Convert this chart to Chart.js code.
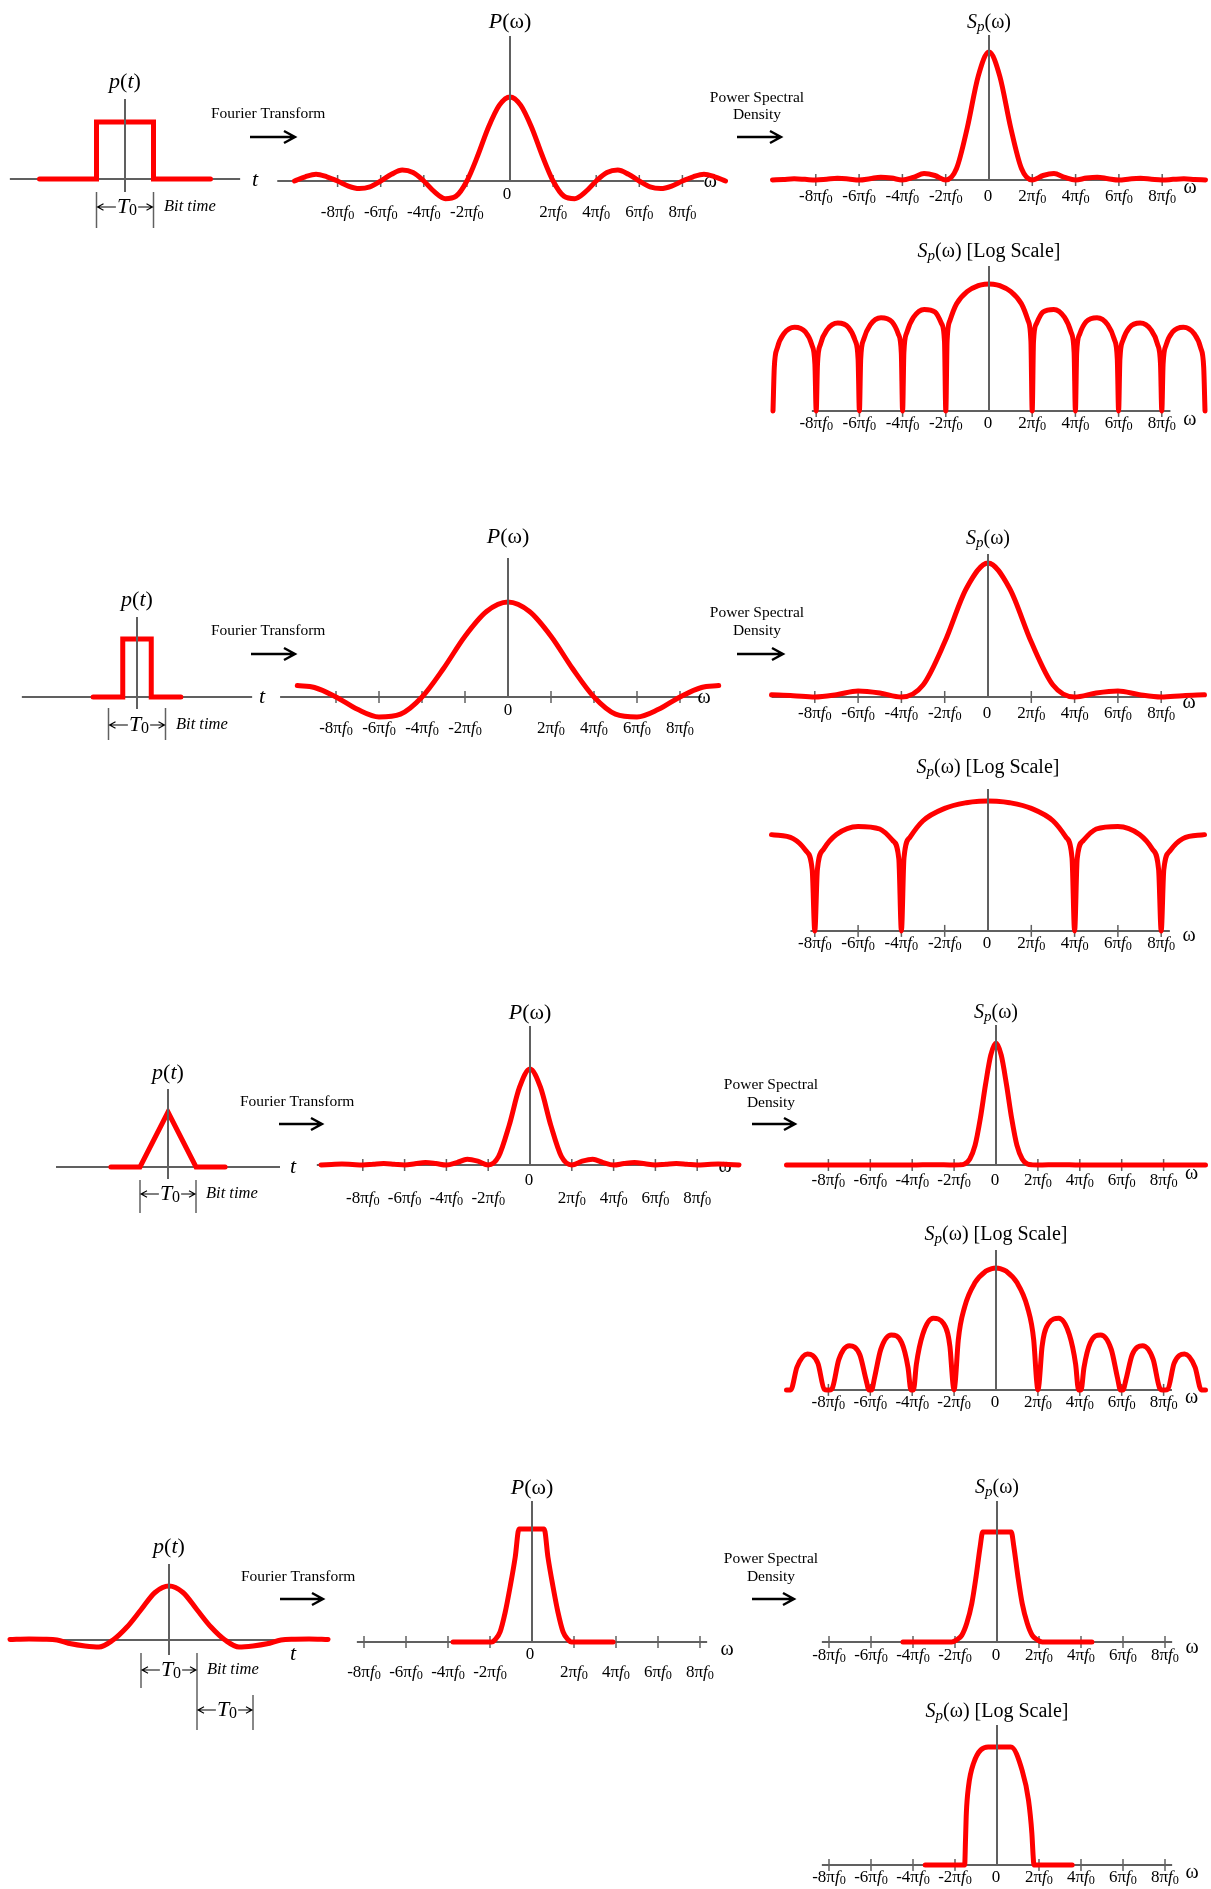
<!DOCTYPE html>
<html>
<head>
<meta charset="utf-8">
<script src="https://cdn.jsdelivr.net/npm/chart.js@4.4.1/dist/chart.umd.min.js"></script>
<style>
  html, body { margin: 0; padding: 0; background: #fff; }
  #page { position: relative; width: 1211px; height: 1889px; overflow: hidden; }
  #page canvas { position: absolute; left: 0; }
</style>
</head>
<body>
<div id="page"></div>
<script>
// Frequency axis: ticks in units of 2*pi*f0
const omegaTicks = [-4, -3, -2, -1, 1, 2, 3, 4];
const omegaTickLabels = ['-8πf0', '-6πf0', '-4πf0', '-2πf0', '2πf0', '4πf0', '6πf0', '8πf0'];

// Shared grid for the sinc-type curves
const uGrid = [-5, -4.75, -4.5, -4.25, -4, -3.75, -3.5, -3.25, -3, -2.75, -2.5, -2.25, -2, -1.75, -1.5, -1.25, -1, -0.75, -0.5, -0.25,
  0, 0.25, 0.5, 0.75, 1, 1.25, 1.5, 1.75, 2, 2.25, 2.5, 2.75, 3, 3.25, 3.5, 3.75, 4, 4.25, 4.5, 4.75, 5];

// Row 1: full width rectangular pulse
const rectPulseT = [-1.5, -0.5, -0.5, 0.5, 0.5, 1.5];
const rectPulseV = [0, 0, 1, 1, 0, 0];
const rectP = [0, 0.05, 0.08, 0.05, 0, -0.06, -0.09, -0.07, 0, 0.08, 0.13, 0.10, 0, -0.13, -0.21, -0.18, 0, 0.30, 0.64, 0.90,
  1, 0.90, 0.64, 0.30, 0, -0.18, -0.21, -0.13, 0, 0.10, 0.13, 0.08, 0, -0.07, -0.09, -0.06, 0, 0.05, 0.08, 0.05, 0];
const rectSp = [0, 0.004, 0.009, 0.005, 0, 0.006, 0.013, 0.008, 0, 0.01, 0.022, 0.015, 0, 0.02, 0.05, 0.035, 0, 0.09, 0.41, 0.81,
  1, 0.81, 0.41, 0.09, 0, 0.035, 0.05, 0.02, 0, 0.015, 0.022, 0.01, 0, 0.008, 0.013, 0.006, 0, 0.005, 0.009, 0.004, 0];
const lobeU = [-5, -4.97, -4.9, -4.75, -4.5, -4.25, -4.1, -4.03, -4, -3.97, -3.9, -3.75, -3.5, -3.25, -3.1, -3.03,
  -3, -2.97, -2.9, -2.75, -2.5, -2.25, -2.1, -2.03, -2, -1.97, -1.9, -1.75, -1.5, -1.25, -1.1, -1.03,
  -1, -0.97, -0.9, -0.75, -0.5, -0.25, -0.1, 0, 0.1, 0.25, 0.5, 0.75, 0.9, 0.97, 1,
  1.03, 1.1, 1.25, 1.5, 1.75, 1.9, 1.97, 2, 2.03, 2.1, 2.25, 2.5, 2.75, 2.9, 2.97, 3,
  3.03, 3.1, 3.25, 3.5, 3.75, 3.9, 3.97, 4, 4.03, 4.1, 4.25, 4.5, 4.75, 4.9, 4.97, 5];
const rectLogDb = [-67.5, -44.4, -34.0, -26.5, -23.0, -25.5, -32.4, -42.6, -67.5, -42.5, -32.0, -24.4, -20.8, -23.2, -30.0, -40.1,
  -67.5, -39.9, -29.4, -21.7, -17.9, -20.0, -26.6, -36.6, -67.5, -36.4, -25.7, -17.8, -13.5, -14.9, -21.0, -30.7,
  -67.5, -30.2, -19.2, -10.5, -3.9, -0.9, -0.1, 0, -0.1, -0.9, -3.9, -10.5, -19.2, -30.2, -67.5,
  -30.7, -21.0, -14.9, -13.5, -17.8, -25.7, -36.4, -67.5, -36.6, -26.6, -20.0, -17.9, -21.7, -29.4, -39.9, -67.5,
  -40.1, -30.0, -23.2, -20.8, -24.4, -32.0, -42.5, -67.5, -42.6, -32.4, -25.5, -23.0, -26.5, -34.0, -44.4, -67.5];

// Row 2: half width (RZ) rectangular pulse
const rzPulseT = [-0.77, -0.25, -0.25, 0.25, 0.25, 0.77];
const rzPulseV = [0, 0, 1, 1, 0, 0];
const rzPU = [-4.9, -4.5, -4, -3.5, -3, -2.5, -2, -1.5, -1, -0.5, 0, 0.5, 1, 1.5, 2, 2.5, 3, 3.5, 4, 4.5, 4.9];
const rzP = [0.12, 0.10, 0, -0.13, -0.21, -0.18, 0, 0.30, 0.64, 0.90, 1, 0.90, 0.64, 0.30, 0, -0.18, -0.21, -0.13, 0, 0.10, 0.12];
const rzSpU = [-5, -4.5, -4, -3.5, -3, -2.5, -2, -1.5, -1, -0.5, 0, 0.5, 1, 1.5, 2, 2.5, 3, 3.5, 4, 4.5, 5];
const rzSp = [0.016, 0.01, 0, 0.017, 0.045, 0.03, 0, 0.09, 0.41, 0.81, 1, 0.81, 0.41, 0.09, 0, 0.03, 0.045, 0.017, 0, 0.01, 0.016];
const rzLogU = [-5, -4.5, -4.2, -4.06, -4, -3.94, -3.8, -3.5, -3, -2.5, -2.2, -2.06, -2, -1.94, -1.8, -1.5, -1, -0.5, -0.2,
  0, 0.2, 0.5, 1, 1.5, 1.8, 1.94, 2, 2.06, 2.2, 2.5, 3, 3.5, 3.8, 3.94, 4, 4.06, 4.2, 4.5, 5];
const rzLogDb = [-17.9, -20.0, -26.6, -36.6, -69.1, -36.4, -25.7, -17.8, -13.5, -14.9, -21.0, -30.7, -69.1, -30.2, -19.2, -10.5, -3.9, -0.9, -0.1,
  0, -0.1, -0.9, -3.9, -10.5, -19.2, -30.2, -69.1, -30.7, -21.0, -14.9, -13.5, -17.8, -25.7, -36.4, -69.1, -36.6, -26.6, -20.0, -17.9];

// Row 3: triangular pulse
const triPulseT = [-1.02, -0.5, 0, 0.5, 1.02];
const triPulseV = [0, 0, 1, 0, 0];
const triP = [0, 0.005, 0.01, 0.005, 0, 0.008, 0.015, 0.008, 0, 0.012, 0.025, 0.015, 0, 0.025, 0.06, 0.04, 0, 0.09, 0.41, 0.81,
  1, 0.81, 0.41, 0.09, 0, 0.04, 0.06, 0.025, 0, 0.015, 0.025, 0.012, 0, 0.008, 0.015, 0.008, 0, 0.005, 0.01, 0.005, 0];
const triSpU = [-5, -4, -3, -2, -1.5, -1, -0.875, -0.75, -0.625, -0.5, -0.375, -0.25, -0.125, 0,
  0.125, 0.25, 0.375, 0.5, 0.625, 0.75, 0.875, 1, 1.5, 2, 3, 4, 5];
const triSp = [0, 0, 0, 0, 0.003, 0, 0.001, 0.008, 0.05, 0.16, 0.38, 0.66, 0.90, 1,
  0.90, 0.66, 0.38, 0.16, 0.05, 0.008, 0.001, 0, 0.003, 0, 0, 0, 0];
const triLogDb = [-65.2, -65.2, -65.2, -53.0, -46.0, -51.0, -64.8, -65.2, -65.2, -65.2, -63.9, -48.9, -41.6, -46.4, -59.9, -65.2,
  -65.2, -65.2, -58.8, -43.5, -35.8, -40.0, -53.2, -65.2, -65.2, -65.2, -51.4, -35.6, -26.9, -29.8, -41.9, -61.5,
  -65.2, -60.4, -38.5, -20.9, -7.8, -1.8, -0.3, 0, -0.3, -1.8, -7.8, -20.9, -38.5, -60.4, -65.2,
  -61.5, -41.9, -29.8, -26.9, -35.6, -51.4, -65.2, -65.2, -65.2, -53.2, -40.0, -35.8, -43.5, -58.8, -65.2, -65.2,
  -65.2, -59.9, -46.4, -41.6, -48.9, -63.9, -65.2, -65.2, -65.2, -64.8, -51.0, -46.0, -53.0, -65.2, -65.2, -65.2];

// Row 4: smooth (raised cosine like) pulse
const rcPulseT = [-2.84, -2.5, -2.25, -2, -1.75, -1.5, -1.25, -1, -0.75, -0.5, -0.25, 0, 0.25, 0.5, 0.75, 1, 1.25, 1.5, 1.75, 2, 2.25, 2.5, 2.84];
const rcPulseV = [0.01, 0.02, 0.015, 0, -0.07, -0.11, -0.13, 0, 0.24, 0.56, 0.88, 1, 0.88, 0.56, 0.24, 0, -0.13, -0.11, -0.07, 0, 0.015, 0.02, 0.01];
const rcPU = [-1.88, -0.96, -0.88, -0.76, -0.64, -0.52, -0.40, -0.31, 0.29, 0.38, 0.50, 0.62, 0.74, 0.86, 0.94, 1.93];
const rcP = [0, 0, 0.02, 0.09, 0.26, 0.49, 0.75, 1, 1, 0.75, 0.49, 0.26, 0.09, 0.02, 0, 0];
const rcSpU = [-2.24, -1.08, -0.96, -0.84, -0.72, -0.60, -0.50, -0.40, -0.34, 0.34, 0.40, 0.50, 0.60, 0.72, 0.84, 0.96, 1.08, 2.26];
const rcSp = [0, 0, 0.02, 0.06, 0.17, 0.35, 0.59, 0.87, 1, 1, 0.87, 0.59, 0.35, 0.17, 0.06, 0.02, 0, 0];
const rcLogU = [-1.71, -0.77, -0.75, -0.73, -0.68, -0.56, -0.21, 0.33, 0.60, 0.75, 0.83, 0.86, 0.88, 1.79];
const rcLog = [0, 0, 0.21, 0.44, 0.66, 0.86, 1, 1, 0.80, 0.55, 0.27, 0.08, 0, 0];

const FONT = '"Liberation Serif", "DejaVu Serif", serif';
const RED = '#ff0000';
const AXIS = '#606060';
const PAGE_W = 1211;
const TICK_FS = 17;

const titleP = [{ t: 'P', s: 22, it: true }, { t: '(ω)', s: 22 }];
const titleS = [{ t: 'S', s: 20, it: true }, { t: 'p', s: 15, it: true, dy: 4 }, { t: '(ω)', s: 20 }];
const titleLog = titleS.concat([{ t: ' [Log Scale]', s: 20 }]);

// ---- drawing helpers ----
function line(ctx, x1, y1, x2, y2, color, w) {
    ctx.save();
    ctx.strokeStyle = color;
    ctx.lineWidth = w;
    ctx.beginPath();
    ctx.moveTo(x1, y1);
    ctx.lineTo(x2, y2);
    ctx.stroke();
    ctx.restore();
}

function arrow(ctx, from, to, y, w, head) {
    const dir = to > from ? 1 : -1;
    ctx.save();
    ctx.strokeStyle = '#000';
    ctx.lineWidth = w;
    ctx.lineJoin = 'miter';
    ctx.beginPath();
    ctx.moveTo(from, y);
    ctx.lineTo(to, y);
    ctx.moveTo(to - dir * head, y - head * 0.55);
    ctx.lineTo(to, y);
    ctx.lineTo(to - dir * head, y + head * 0.55);
    ctx.stroke();
    ctx.restore();
}

function fontOf(p) {
    return (p.it ? 'italic ' : '') + p.s + 'px ' + FONT;
}

function rich(ctx, parts, x, y, align) {
    ctx.save();
    ctx.fillStyle = '#000';
    ctx.textBaseline = 'middle';
    ctx.textAlign = 'left';
    let w = 0;
    const ws = parts.map(p => { ctx.font = fontOf(p); const m = ctx.measureText(p.t).width; w += m; return m; });
    let cx = align === 'center' ? x - w / 2 : (align === 'right' ? x - w : x);
    parts.forEach((p, i) => { ctx.font = fontOf(p); ctx.fillText(p.t, cx, y + (p.dy || 0)); cx += ws[i]; });
    ctx.restore();
    return w;
}

function tickParts(label) {
    if (!label.endsWith('f0')) return [{ t: label, s: TICK_FS }];
    return [{ t: label.slice(0, -2), s: TICK_FS }, { t: 'f', s: TICK_FS, it: true }, { t: '0', s: TICK_FS * 0.72, dy: 3 }];
}

// ---- one Chart.js chart per panel, on a full width band ----
function makeChart(c, hooks) {
    const [top, h] = c.band;
    const cv = document.createElement('canvas');
    cv.width = PAGE_W;
    cv.height = h;
    cv.style.top = top + 'px';
    document.getElementById('page').appendChild(cv);
    const helpers = ch => ({
        ctx: ch.ctx,
        X: u => ch.scales.x.getPixelForValue(u),
        Y: v => ch.scales.y.getPixelForValue(v),
        top: top
    });
    return new Chart(cv, {
        type: 'line',
        data: {
            datasets: [{
                data: c.xs.map((x, i) => ({ x: x, y: c.ys[i] })),
                borderColor: RED,
                borderWidth: 5,
                pointRadius: 0,
                fill: false,
                tension: c.smooth ? 0.4 : 0,
                cubicInterpolationMode: c.smooth ? 'monotone' : 'default',
                borderJoinStyle: c.smooth ? 'round' : 'miter',
                borderCapStyle: 'round'
            }]
        },
        options: {
            responsive: false,
            animation: false,
            devicePixelRatio: 1,
            events: [],
            layout: { padding: 0 },
            plugins: { legend: { display: false }, tooltip: { enabled: false } },
            scales: {
                x: { type: 'linear', display: false, min: -c.ox / c.pxu, max: (PAGE_W - c.ox) / c.pxu },
                y: { type: 'linear', display: false, min: (c.ref - top - h) / c.pyu, max: (c.ref - top) / c.pyu }
            }
        },
        plugins: [{
            id: 'decor',
            beforeDatasetsDraw(ch) { hooks.under(helpers(ch)); },
            afterDatasetsDraw(ch) { hooks.over(helpers(ch)); }
        }]
    });
}

// Spectrum panel: axis, ticks, labels, title
function spectrumPanel(c) {
    c.smooth = true;
    makeChart(c, {
        under({ ctx, X, Y }) {
            const ay = Y(c.axisV);
            line(ctx, X(c.axis[0]), ay, X(c.axis[1]), ay, AXIS, 2);
            omegaTicks.forEach(u => line(ctx, X(u), ay - 6, X(u), ay + 6, AXIS, 1.5));
            rich(ctx, [{ t: 'ω', s: 20 }], X(4) + c.omega[0], ay + c.omega[1], 'center');
        },
        over({ ctx, X, Y, top }) {
            const ay = Y(c.axisV), x0 = X(0);
            line(ctx, x0, c.vTop - top, x0, ay, AXIS, 2);
            omegaTicks.forEach((u, i) => rich(ctx, tickParts(omegaTickLabels[i]), X(u), ay + c.labelDy, 'center'));
            rich(ctx, [{ t: '0', s: TICK_FS }], x0 + c.zero[0], ay + c.zero[1], 'center');
            rich(ctx, c.title, x0, c.titleY - top, 'center');
        }
    });
}

// Time domain pulse panel, with bit time markers and the flow labels of the row
function pulsePanel(c) {
    makeChart(c, {
        under({ ctx, X, Y, top }) {
            const ay = Y(0);
            line(ctx, X(c.axis[0]), ay, X(c.axis[1]), ay, AXIS, 2);
        },
        over({ ctx, X, Y, top }) {
            const x0 = X(0);
            line(ctx, x0, c.vTop - top, x0, c.vBot - top, AXIS, 2);
            rich(ctx, [{ t: 'p', s: 22, it: true }, { t: '(', s: 22 }, { t: 't', s: 22, it: true }, { t: ')', s: 22 }], x0, c.labelY - top, 'center');
            rich(ctx, [{ t: 't', s: 22, it: true }], c.tAt[0], c.tAt[1] - top, 'center');
            c.markers.forEach(m => {
                const xa = X(m.a), xb = X(m.b), y = m.y - top;
                if (m.ta) line(ctx, xa, m.ta[0] - top, xa, m.ta[1] - top, AXIS, 1.5);
                if (m.tb) line(ctx, xb, m.tb[0] - top, xb, m.tb[1] - top, AXIS, 1.5);
                const parts = [{ t: 'T', s: 22, it: true }, { t: '0', s: 16, dy: 4 }];
                ctx.save();
                ctx.font = fontOf(parts[0]);
                let w = ctx.measureText('T').width;
                ctx.font = fontOf(parts[1]);
                w += ctx.measureText('0').width;
                ctx.restore();
                const xc = (xa + xb) / 2 + 2;
                arrow(ctx, xc - w / 2 - 1, xa + 1, y, 1.1, 6);
                arrow(ctx, xc + w / 2 + 1, xb - 1, y, 1.1, 6);
                rich(ctx, parts, xc, y, 'center');
            });
            rich(ctx, [{ t: 'Bit time', s: 16.5, it: true }], c.bitAt[0], c.bitAt[1] - top, 'left');
            // flow labels between the panels of the row
            const f = c.ft, p = c.psd;
            rich(ctx, [{ t: 'Fourier Transform', s: 15.5 }], f.x, f.y - top, 'left');
            arrow(ctx, f.a0, f.a1, f.ay - top, 2.4, 11);
            rich(ctx, [{ t: 'Power Spectral', s: 15.5 }], p.cx, p.y1 - top, 'center');
            rich(ctx, [{ t: 'Density', s: 15.5 }], p.cx, p.y2 - top, 'center');
            arrow(ctx, p.a0, p.a1, p.ay - top, 2.4, 11);
        }
    });
}

// ---- Row 1 ----
pulsePanel({ band: [55, 190], ox: 125, ref: 179, pxu: 57, pyu: 57, xs: rectPulseT, ys: rectPulseV, smooth: false,
    axis: [-2.02, 2.02], vTop: 99, vBot: 192, labelY: 82, tAt: [255, 180],
    markers: [{ a: -0.5, b: 0.5, y: 207, ta: [192, 228], tb: [192, 228] }], bitAt: [164, 207],
    ft: { x: 211, y: 114, ay: 137, a0: 250, a1: 295 }, psd: { cx: 757, y1: 98, y2: 115, ay: 137, a0: 737, a1: 781 } });
spectrumPanel({ band: [0, 235], ox: 510, ref: 181, pxu: 43.1, pyu: 84, xs: uGrid, ys: rectP, axisV: 0,
    axis: [-5.4, 4.5], vTop: 36, labelDy: 32, zero: [-3, 14], titleY: 22, title: titleP, omega: [28, 1] });
spectrumPanel({ band: [0, 235], ox: 989, ref: 180, pxu: 43.3, pyu: 128, xs: uGrid, ys: rectSp, axisV: 0,
    axis: [-5.0, 4.4], vTop: 35, labelDy: 17, zero: [-1, 17], titleY: 23, title: titleS, omega: [28, 8] });
spectrumPanel({ band: [232, 210], ox: 989, ref: 284, pxu: 43.2, pyu: 1.88, xs: lobeU, ys: rectLogDb, axisV: -67.5,
    axis: [-4.1, 4.2], vTop: 266, labelDy: 13, zero: [-1, 13], titleY: 252, title: titleLog, omega: [28, 9] });

// ---- Row 2 ----
pulsePanel({ band: [575, 185], ox: 137, ref: 697, pxu: 57, pyu: 58, xs: rzPulseT, ys: rzPulseV, smooth: false,
    axis: [-2.02, 2.02], vTop: 617, vBot: 709, labelY: 600, tAt: [262, 697],
    markers: [{ a: -0.5, b: 0.5, y: 725, ta: [708, 740], tb: [708, 740] }], bitAt: [176, 725],
    ft: { x: 211, y: 631, ay: 654, a0: 251, a1: 295 }, psd: { cx: 757, y1: 613, y2: 631, ay: 654, a0: 737, a1: 783 } });
spectrumPanel({ band: [515, 245], ox: 508, ref: 697, pxu: 43, pyu: 95, xs: rzPU, ys: rzP, axisV: 0,
    axis: [-5.3, 4.5], vTop: 558, labelDy: 32, zero: [0, 14], titleY: 537, title: titleP, omega: [24, 1] });
spectrumPanel({ band: [515, 245], ox: 988, ref: 697, pxu: 43.3, pyu: 134, xs: rzSpU, ys: rzSp, axisV: 0,
    axis: [-5.0, 4.4], vTop: 554, labelDy: 17, zero: [-1, 17], titleY: 539, title: titleS, omega: [28, 6] });
spectrumPanel({ band: [750, 210], ox: 988, ref: 801, pxu: 43.3, pyu: 1.88, xs: rzLogU, ys: rzLogDb, axisV: -69.1,
    axis: [-4.1, 4.2], vTop: 789, labelDy: 13, zero: [-1, 13], titleY: 768, title: titleLog, omega: [28, 5] });

// ---- Row 3 ----
pulsePanel({ band: [1045, 185], ox: 168, ref: 1167, pxu: 56, pyu: 55, xs: triPulseT, ys: triPulseV, smooth: false,
    axis: [-2.0, 2.0], vTop: 1089, vBot: 1179, labelY: 1073, tAt: [293, 1167],
    markers: [{ a: -0.5, b: 0.5, y: 1194, ta: [1180, 1213], tb: [1180, 1213] }], bitAt: [206, 1194],
    ft: { x: 240, y: 1102, ay: 1124, a0: 279, a1: 322 }, psd: { cx: 771, y1: 1085, y2: 1103, ay: 1124, a0: 752, a1: 795 } });
spectrumPanel({ band: [985, 235], ox: 530, ref: 1165, pxu: 41.8, pyu: 96, xs: uGrid, ys: triP, axisV: 0,
    axis: [-5.1, 4.2], vTop: 1026, labelDy: 34, zero: [-1, 16], titleY: 1013, title: titleP, omega: [28, 2] });
spectrumPanel({ band: [985, 235], ox: 996, ref: 1165, pxu: 41.9, pyu: 122, xs: triSpU, ys: triSp, axisV: 0,
    axis: [-5.0, 4.2], vTop: 1025, labelDy: 16, zero: [-1, 16], titleY: 1013, title: titleS, omega: [28, 9] });
spectrumPanel({ band: [1215, 205], ox: 996, ref: 1268, pxu: 41.9, pyu: 1.87, xs: lobeU, ys: triLogDb, axisV: -65.2,
    axis: [-4.1, 4.2], vTop: 1250, labelDy: 13, zero: [-1, 13], titleY: 1235, title: titleLog, omega: [28, 8] });

// ---- Row 4 ----
pulsePanel({ band: [1520, 225], ox: 169, ref: 1640, pxu: 56, pyu: 54, xs: rcPulseT, ys: rcPulseV, smooth: true,
    axis: [-2.04, 2.02], vTop: 1564, vBot: 1655, labelY: 1547, tAt: [293, 1654],
    markers: [{ a: -0.5, b: 0.5, y: 1670, ta: [1653, 1688], tb: [1653, 1730] }, { a: 0.5, b: 1.5, y: 1710, ta: null, tb: [1695, 1730] }],
    bitAt: [207, 1670],
    ft: { x: 241, y: 1577, ay: 1599, a0: 280, a1: 323 }, psd: { cx: 771, y1: 1559, y2: 1577, ay: 1599, a0: 752, a1: 794 } });
spectrumPanel({ band: [1465, 230], ox: 532, ref: 1642, pxu: 42, pyu: 113, xs: rcPU, ys: rcP, axisV: 0,
    axis: [-4.17, 4.17], vTop: 1501, labelDy: 31, zero: [-2, 13], titleY: 1488, title: titleP, omega: [27, 8] });
spectrumPanel({ band: [1465, 230], ox: 997, ref: 1642, pxu: 42, pyu: 110, xs: rcSpU, ys: rcSp, axisV: 0,
    axis: [-4.17, 4.17], vTop: 1501, labelDy: 14, zero: [-1, 14], titleY: 1488, title: titleS, omega: [27, 6] });
spectrumPanel({ band: [1690, 199], ox: 997, ref: 1865, pxu: 42, pyu: 118, xs: rcLogU, ys: rcLog, axisV: 0,
    axis: [-4.17, 4.17], vTop: 1725, labelDy: 13, zero: [-1, 13], titleY: 1712, title: titleLog, omega: [27, 8] });
</script>
</body>
</html>
